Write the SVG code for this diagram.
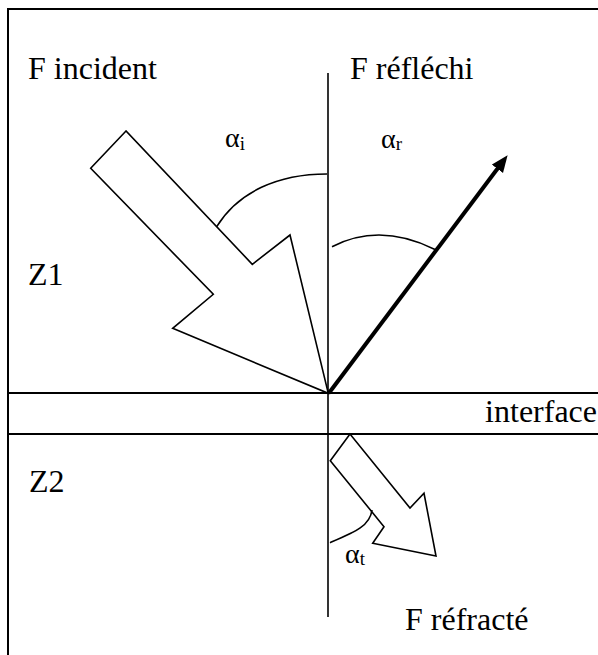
<svg xmlns="http://www.w3.org/2000/svg" width="598" height="655" viewBox="0 0 598 655">
  <style>
    .ln { fill: none; stroke: #000; stroke-width: 1.6; }
    .frame { fill: none; stroke: #000; stroke-width: 2; }
    .shape { fill: #fff; stroke: #000; stroke-width: 1.6; stroke-linejoin: miter; }
    .lbl { font-size: 32px; fill: #000; }
    .gr { font-size: 28px; fill: #000; }
    .sub { font-size: 19px; }
  </style>
  <defs>
    <marker id="ah" markerUnits="userSpaceOnUse" markerWidth="20" markerHeight="16" refX="1" refY="7" orient="auto">
      <path d="M0,0 L17,7 L0,14 Z" fill="#000"/>
    </marker>
  </defs>
  <rect width="598" height="655" fill="#fff"/>

  <g id="frame">
    <path class="frame" d="M8,700 L8,9 L640,9"/>
    <path class="frame" d="M8,393 L640,393 M8,434 L640,434"/>
    <path class="ln" d="M328,73 L328,617"/>
  </g>

  <g id="incident">
    <polygon class="shape" points="126,131 90.7,168.3 213.3,294.3 172.7,328.3 328.3,393.3 290,235 252.3,264.3"/>
  </g>

  <g id="refracted">
    <polygon class="shape" points="350,434 330.3,460.7 384,526.7 372.7,543.3 436,556 424,493.3 410,508"/>
  </g>

  <g id="connectors">
    <path id="reflected" d="M329,393 L498,168" fill="none" stroke="#000" stroke-width="4" marker-end="url(#ah)"/>
    <path class="ln" d="M216.7,226.7 C238,192 278,174 327,174"/>
    <path class="ln" d="M332,246.7 Q380,222 435,249.5"/>
    <path class="ln" d="M330,542.7 C355,532 370,526 372,510"/>
  </g>

  <g id="labels" font-family="'Liberation Serif', 'Times New Roman', Tinos, 'DejaVu Serif', serif">
    <text class="lbl" x="28" y="79">F incident</text>
    <text class="lbl" x="350" y="79">F réfléchi</text>
    <text class="lbl" x="28" y="285">Z1</text>
    <text class="lbl" x="29" y="492">Z2</text>
    <text class="lbl" x="597" y="422" text-anchor="end">interface</text>
    <text class="lbl" x="405" y="630">F réfracté</text>
    <text class="gr" x="225" y="147">α<tspan class="sub" dy="3">i</tspan></text>
    <text class="gr" x="381" y="148">α<tspan class="sub" dy="2">r</tspan></text>
    <text class="gr" x="345" y="563">α<tspan class="sub" dy="2">t</tspan></text>
  </g>
</svg>
